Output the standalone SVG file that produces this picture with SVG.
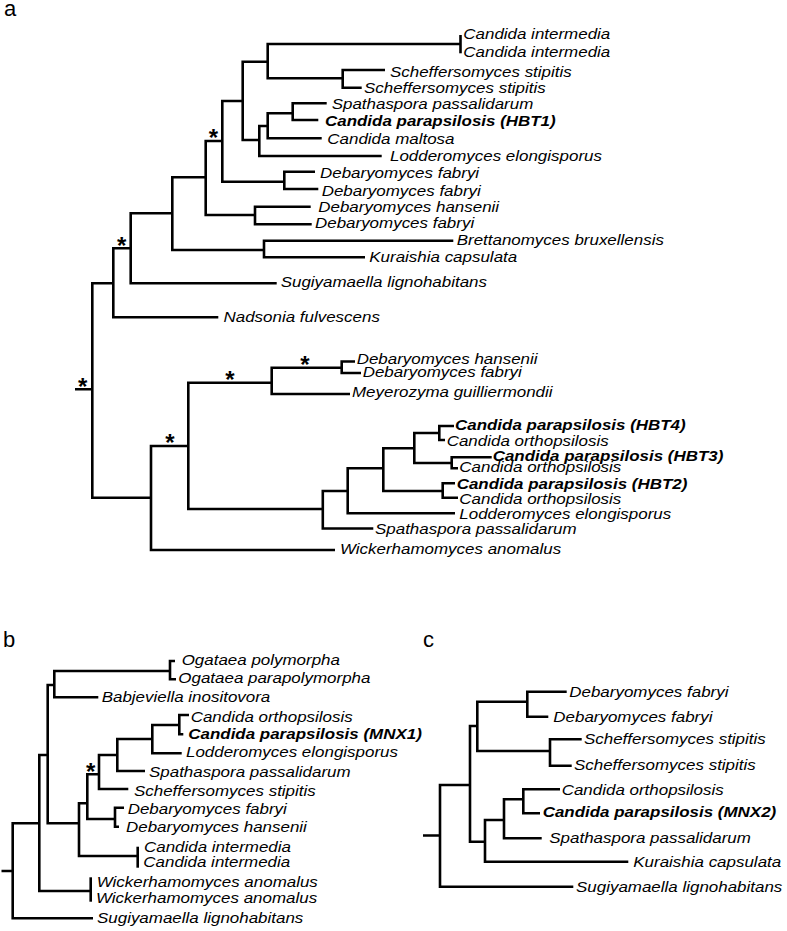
<svg xmlns="http://www.w3.org/2000/svg" width="787" height="931" viewBox="0 0 787 931">
<style>
.br{fill:none;stroke:#000;stroke-width:2.6;stroke-linejoin:miter;stroke-linecap:butt}
.t{font-family:"Liberation Sans",Arial,sans-serif;font-size:15px;font-style:italic;fill:#000;transform-box:fill-box;transform-origin:0 0;transform:scale(1.13,1)}
.b{font-weight:bold}
.s{font-family:"Liberation Sans",Arial,sans-serif;font-size:24px;font-weight:bold;text-anchor:middle;fill:#000}
.p{font-family:"Liberation Sans",Arial,sans-serif;font-size:22px;fill:#000}
</style>
<rect width="787" height="931" fill="#fff"/>
<g id="panel-labels">
<text class="p" x="4" y="16">a</text>
<text class="p" x="3" y="647">b</text>
<text class="p" x="423" y="647">c</text>
</g>
<g id="connectors">
<!-- panel a -->
<path class="br" d="M75 389.3H92.3M113.3 283.3H92.3V497.7H151"/>
<path class="br" d="M130.7 248.3H113.3V317.3H218.3"/>
<path class="br" d="M172.3 213.3H130.7V283.3H276.7"/>
<path class="br" d="M205.7 177.3H172.3V250H264"/>
<path class="br" d="M453.3 240.7H264V257.3H365"/>
<path class="br" d="M222.3 141H205.7V215H255"/>
<path class="br" d="M310.7 206.7H255V224.3H311.7"/>
<path class="br" d="M242.7 101H222.3V181.7H284.3"/>
<path class="br" d="M315 171.7H284.3V189H318.3"/>
<path class="br" d="M267.7 61.7H242.7V140H259.3"/>
<path class="br" d="M460.5 44H267.7V78.3H342.7"/>
<path class="br" d="M460.5 35V53.3"/>
<path class="br" d="M385 70H342.7V87.7H361.7"/>
<path class="br" d="M267.7 126H259.3V156H381.7"/>
<path class="br" d="M292.7 113.3H267.7V138.3H321.7"/>
<path class="br" d="M326.7 103.3H292.7V120H318.3"/>
<path class="br" d="M188.3 446H151V550H335"/>
<path class="br" d="M271.7 382.7H188.3V509H322.8"/>
<path class="br" d="M341.7 367.7H271.7V394H350"/>
<path class="br" d="M355 361.5H341.7V373H361"/>
<path class="br" d="M347.7 491H322.8V528.5H373.3"/>
<path class="br" d="M383.3 468.3H347.7V513.3H455"/>
<path class="br" d="M414.3 448.3H383.3V491H442.7"/>
<path class="br" d="M439.3 433H414.3V463H451.7"/>
<path class="br" d="M454 426H439.3V440H445"/>
<path class="br" d="M491.7 457.3H451.7V468.3H458"/>
<path class="br" d="M455 483.3H442.7V497.7H458"/>
<!-- panel b -->
<path class="br" d="M1.5 871H12.7M39.3 823.3H12.7V918.3H93"/>
<path class="br" d="M47.7 755H39.3V891H90.7"/>
<path class="br" d="M54.3 685H47.7V823.3H79"/>
<path class="br" d="M170 671H54.3V697.3H98.3"/>
<path class="br" d="M175 661H170V679.3H176"/>
<path class="br" d="M87.3 803.3H79V856H137.7"/>
<path class="br" d="M99 774.3H87.3V819H115"/>
<path class="br" d="M117.3 755H99V789H128.3"/>
<path class="br" d="M152.3 739H117.3V771H145"/>
<path class="br" d="M179.3 725H152.3V753.3H181.7"/>
<path class="br" d="M189 715H179.3V734.3H183.3"/>
<path class="br" d="M124 807.7H115V826.7H119"/>
<path class="br" d="M137.7 846.7V867.7"/>
<path class="br" d="M90.7 877.3V901.7"/>
<!-- panel c -->
<path class="br" d="M423 835.5H440M470 785H440V886.7H573.3"/>
<path class="br" d="M477.3 726H470V841.7H485"/>
<path class="br" d="M527.3 701.7H477.3V751H550"/>
<path class="br" d="M566.7 691.7H527.3V716.7H548.3"/>
<path class="br" d="M581.7 739.3H550V765.7H571.7"/>
<path class="br" d="M504 820H485V861.7H628.3"/>
<path class="br" d="M523.3 799.3H504V838.3H541.7"/>
<path class="br" d="M560 789.3H523.3V813.3H540"/>
</g>
<g id="support">
<text class="s" x="213.3" y="146">*</text>
<text class="s" x="121.7" y="254">*</text>
<text class="s" x="82.7" y="395">*</text>
<text class="s" x="305" y="373">*</text>
<text class="s" x="230" y="388">*</text>
<text class="s" x="170" y="451">*</text>
<text class="s" x="90.7" y="780">*</text>
</g>
<g id="a-leaves">
<g id="a1"><text class="t" x="463.3" y="39">Candida intermedia</text></g>
<g id="a2"><text class="t" x="463.3" y="56.7">Candida intermedia</text></g>
<g id="a3"><text class="t" x="390" y="76.7">Scheffersomyces stipitis</text></g>
<g id="a4"><text class="t" x="364" y="92.7">Scheffersomyces stipitis</text></g>
<g id="a5"><text class="t" x="331.7" y="109.3">Spathaspora passalidarum</text></g>
<g id="a6"><text class="t b" x="325" y="126">Candida parapsilosis (HBT1)</text></g>
<g id="a7"><text class="t" x="327.3" y="144">Candida maltosa</text></g>
<g id="a8"><text class="t" x="390" y="161">Lodderomyces elongisporus</text></g>
<g id="a9"><text class="t" x="320" y="178.3">Debaryomyces fabryi</text></g>
<g id="a10"><text class="t" x="321.7" y="195.7">Debaryomyces fabryi</text></g>
<g id="a11"><text class="t" x="318.3" y="212.3">Debaryomyces hansenii</text></g>
<g id="a12"><text class="t" x="315" y="228.3">Debaryomyces fabryi</text></g>
<g id="a13"><text class="t" x="456.7" y="245">Brettanomyces bruxellensis</text></g>
<g id="a14"><text class="t" x="369.3" y="261.7">Kuraishia capsulata</text></g>
<g id="a15"><text class="t" x="280.7" y="287.3">Sugiyamaella lignohabitans</text></g>
<g id="a16"><text class="t" x="223.5" y="321.7">Nadsonia fulvescens</text></g>
<g id="a17"><text class="t" x="356.7" y="363.8">Debaryomyces hansenii</text></g>
<g id="a18"><text class="t" x="362.7" y="377">Debaryomyces fabryi</text></g>
<g id="a19"><text class="t" x="352" y="397.5">Meyerozyma guilliermondii</text></g>
<g id="a20"><text class="t b" x="455" y="430">Candida parapsilosis (HBT4)</text></g>
<g id="a21"><text class="t" x="446.7" y="445.7">Candida orthopsilosis</text></g>
<g id="a22"><text class="t b" x="492.7" y="461">Candida parapsilosis (HBT3)</text></g>
<g id="a23"><text class="t" x="459.3" y="472.3">Candida orthopsilosis</text></g>
<g id="a24"><text class="t b" x="456.7" y="489.3">Candida parapsilosis (HBT2)</text></g>
<g id="a25"><text class="t" x="459.3" y="504">Candida orthopsilosis</text></g>
<g id="a26"><text class="t" x="459.3" y="519.3">Lodderomyces elongisporus</text></g>
<g id="a27"><text class="t" x="375" y="534.3">Spathaspora passalidarum</text></g>
<g id="a28"><text class="t" x="340" y="554.3">Wickerhamomyces anomalus</text></g>
</g>
<g id="b-leaves">
<g id="b1"><text class="t" x="181.7" y="665">Ogataea polymorpha</text></g>
<g id="b2"><text class="t" x="178.3" y="683.3">Ogataea parapolymorpha</text></g>
<g id="b3"><text class="t" x="101.7" y="701.7">Babjeviella inositovora</text></g>
<g id="b4"><text class="t" x="190.7" y="721.7">Candida orthopsilosis</text></g>
<g id="b5"><text class="t b" x="188.3" y="739.3">Candida parapsilosis (MNX1)</text></g>
<g id="b6"><text class="t" x="186" y="757.3">Lodderomyces elongisporus</text></g>
<g id="b7"><text class="t" x="149" y="776.7">Spathaspora passalidarum</text></g>
<g id="b8"><text class="t" x="134" y="795.7">Scheffersomyces stipitis</text></g>
<g id="b9"><text class="t" x="127.7" y="814">Debaryomyces fabryi</text></g>
<g id="b10"><text class="t" x="126" y="832.3">Debaryomyces hansenii</text></g>
<g id="b11"><text class="t" x="144" y="852.3">Candida intermedia</text></g>
<g id="b12"><text class="t" x="143.3" y="866.7">Candida intermedia</text></g>
<g id="b13"><text class="t" x="96.7" y="887.3">Wickerhamomyces anomalus</text></g>
<g id="b14"><text class="t" x="96" y="903.3">Wickerhamomyces anomalus</text></g>
<g id="b15"><text class="t" x="97" y="923.5">Sugiyamaella lignohabitans</text></g>
</g>
<g id="c-leaves">
<g id="c1"><text class="t" x="569.3" y="696.7">Debaryomyces fabryi</text></g>
<g id="c2"><text class="t" x="553.3" y="721.7">Debaryomyces fabryi</text></g>
<g id="c3"><text class="t" x="584" y="744">Scheffersomyces stipitis</text></g>
<g id="c4"><text class="t" x="574" y="770">Scheffersomyces stipitis</text></g>
<g id="c5"><text class="t" x="561.7" y="795">Candida orthopsilosis</text></g>
<g id="c6"><text class="t b" x="542.7" y="816.7">Candida parapsilosis (MNX2)</text></g>
<g id="c7"><text class="t" x="549.3" y="843.3">Spathaspora passalidarum</text></g>
<g id="c8"><text class="t" x="633.3" y="866.7">Kuraishia capsulata</text></g>
<g id="c9"><text class="t" x="576" y="891.7">Sugiyamaella lignohabitans</text></g>
</g>
</svg>
